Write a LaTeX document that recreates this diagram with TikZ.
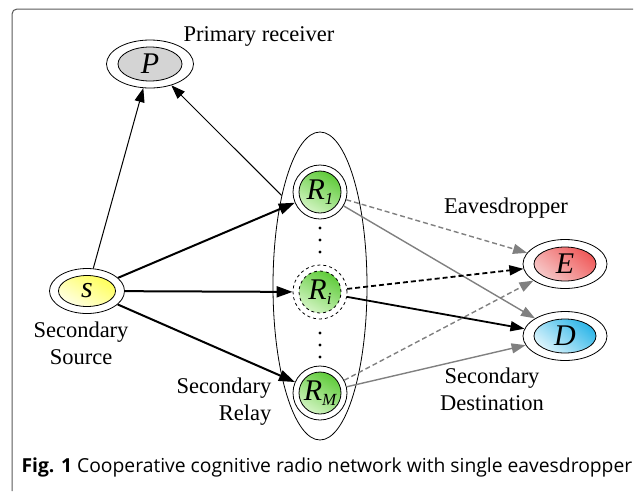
\documentclass[tikz,border=0pt]{standalone}
\usepackage{fontspec}
\setmainfont{Liberation Serif}
\newfontfamily\capfont{Open Sans}
\usetikzlibrary{shapes.geometric,arrows.meta}

\definecolor{relaygreen}{HTML}{5FCB3A}
\definecolor{relaylight}{HTML}{D2F4C2}
\definecolor{eavred}{HTML}{F05A5A}
\definecolor{eavlight}{HTML}{F6C8C8}
\definecolor{dstblue}{HTML}{2EB6E8}
\definecolor{dstlight}{HTML}{DDF4FC}

\tikzstyle{every node}=[font=\fontsize{22.5}{27}\selectfont]
\tikzstyle{ring}=[ellipse,draw,line width=0.8pt,inner sep=0pt]
\tikzstyle{core}=[ellipse,draw,line width=0.8pt,inner sep=0pt,font=\fontsize{30}{30}\selectfont\itshape]
\tikzstyle{relayring}=[circle,draw,line width=0.8pt,inner sep=0pt,minimum size=54pt]
\tikzstyle{relaycore}=[circle,draw,line width=0.8pt,inner sep=0pt,minimum size=42pt,
    top color=relaygreen,bottom color=relaylight,shading angle=-30,font=\fontsize{30}{30}\selectfont\itshape]
\tikzstyle{link}=[-{Triangle[length=14pt,width=10pt]},line width=1pt]
\tikzstyle{strong}=[-{Triangle[length=16pt,width=11pt]},line width=2pt]
\tikzstyle{leak}=[link,line width=1.4pt,gray]
\tikzstyle{leakdash}=[leak,dash pattern=on 5pt off 3pt]

\newcommand{\rname}[1]{R\raisebox{-0.4ex}{\fontsize{17}{17}\selectfont #1}}

\begin{document}
\begin{tikzpicture}[x=1pt,y=-1pt]
    \useasboundingbox (0,0) rectangle (635,491);

    % frame of the figure
    \draw[line width=1pt,black!65,rounded corners=5pt] (12,491) -- (12,9) -- (633,9);

    % relay cluster
    \node[ellipse,draw,line width=0.8pt,minimum width=94pt,minimum height=308pt] (grp) at (320,286) {};

    % primary receiver
    \node[ring,minimum width=87pt,minimum height=48pt] (P) at (150,64) {};
    \node[core,fill=black!17,minimum width=64pt,minimum height=34pt] (P-in) at (P) {P};
    \node (P-txt) at (259,36) {Primary receiver};

    % secondary source
    \node[ring,minimum width=75pt,minimum height=45pt] (S) at (87,291) {};
    \node[core,top color=yellow!65,bottom color=yellow!10,shading angle=-30,
          minimum width=57pt,minimum height=31pt] (S-in) at (S) {s};
    \node[align=center] (S-txt) at (81,343) {Secondary\\Source};

    % relays
    \node[relayring] (R1) at (320,192) {};
    \node[relaycore] (R1-in) at (R1) {\rname{1}};
    \node[relayring,dashed] (Ri) at (320,292) {};
    \node[relaycore,dashed] (Ri-in) at (Ri) {\rname{i}};
    \node[relayring] (RM) at (320,393) {};
    \node[relaycore] (RM-in) at (RM) {\rname{M}};
    \foreach \y in {228,240,252,333,345,357}
        \fill (320,\y) circle (1.6);
    \node[align=right,anchor=east] (R-txt) at (275,402) {Secondary\\Relay};

    % eavesdropper and destination
    \node[ring,minimum width=84pt,minimum height=49pt] (E) at (565,264) {};
    \node[core,top color=eavred,bottom color=eavlight,shading angle=-40,
          minimum width=62pt,minimum height=34pt] (E-in) at (E) {E};
    \node (E-txt) at (506,208) {Eavesdropper};
    \node[ring,minimum width=84pt,minimum height=49pt] (D) at (565,336) {};
    \node[core,top color=dstblue,bottom color=dstlight,shading angle=-40,
          minimum width=62pt,minimum height=34pt] (D-in) at (D) {D};
    \node[align=center] (D-txt) at (492,389) {Secondary\\Destination};

    % links
    \draw[link] (S) -- (P);
    \draw[link] (grp.113) -- (P);
    \draw[strong] (S) -- (R1);
    \draw[strong] (S) -- (Ri);
    \draw[strong] (S) -- (RM);
    \draw[leakdash] (R1) -- (E);
    \draw[leak] (R1) -- (D);
    \draw[link,line width=1.8pt,dash pattern=on 5pt off 3pt] (Ri) -- (E);
    \draw[link,line width=1.8pt] (Ri) -- (D);
    \draw[leakdash] (RM) -- (E);
    \draw[leak] (RM) -- (D);

    % caption
    \node[anchor=west,font=\capfont\fontsize{19.3}{22}\selectfont] (cap) at (18,467)
        {\textbf{Fig. 1} Cooperative cognitive radio network with single eavesdropper};
\end{tikzpicture}
\end{document}
